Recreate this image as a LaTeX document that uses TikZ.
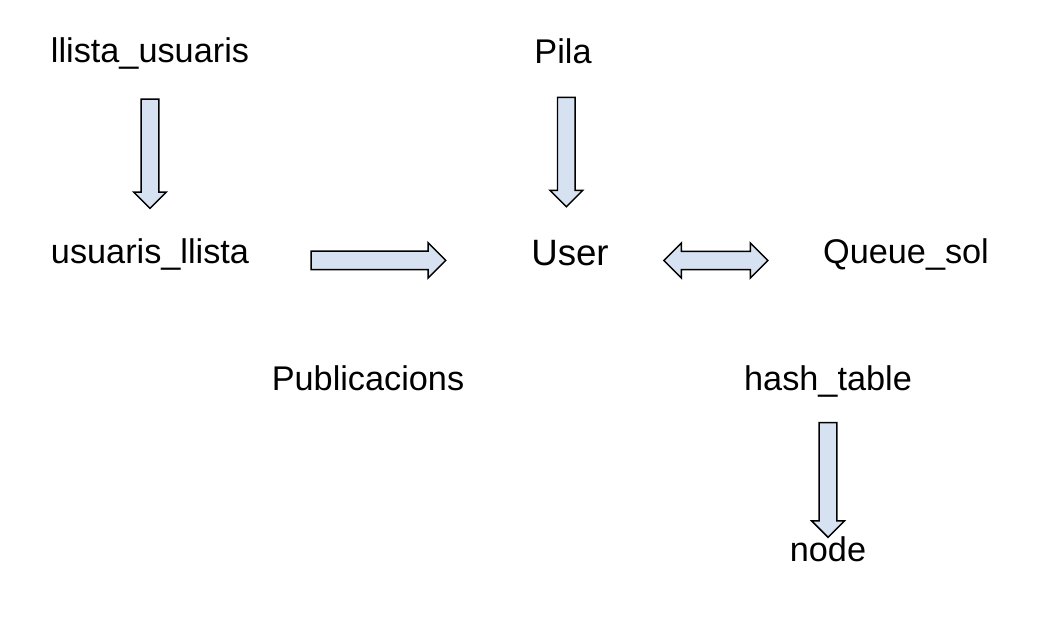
\documentclass[tikz,border=0pt]{standalone}
\usepackage{fontspec}
\setmainfont{Liberation Sans}
\usepackage{xcolor}
\usepackage{tikz}
\usetikzlibrary{shapes,arrows}
\definecolor{arrowfill}{RGB}{214,226,241}

\begin{document}
\begin{tikzpicture}[
    x=0.75pt, y=-0.75pt,
    lbl/.style={font=\fontsize{25.7}{30}\selectfont, inner sep=0pt, anchor=base},
    blk/.style={single arrow, draw, line width=1.1pt, fill=arrowfill, inner sep=6.1pt,
        single arrow head extend=5.6pt},
    dblk/.style={double arrow, draw, line width=1.1pt, fill=arrowfill, inner sep=6.3pt,
        double arrow head extend=6.3pt},
]
    \useasboundingbox (0,0) rectangle (1064,622);

    \node[lbl] (lu) at (150,62) {llista\_usuaris};
    \node[lbl] (pila) at (563,63) {Pila};
    \node[lbl] (ul) at (150,263) {usuaris\_llista};
    \node[lbl, font=\fontsize{27.5}{32}\selectfont] (user) at (570,265) {User};
    \node[lbl] (queue) at (906,263) {Queue\_sol};
    \node[lbl] (publ) at (368,390) {Publicacions};
    \node[lbl] (hash) at (828,390) {hash\_table};
    \node[lbl] (nd) at (828,561) {node};

    \path (lu.south) -- node[pos=0.475, blk, minimum height=82pt, shape border rotate=270] (a1) {} (ul.north);
    \path (pila.south) -- node[pos=0.478, blk, minimum height=82pt, shape border rotate=270] (a2) {} (user.north);
    \path (ul.mid east) -- node[pos=0.442, blk, inner sep=6.4pt, single arrow head extend=6.3pt, minimum height=101pt] (a3) {} (user.mid west);
    \path (user.mid east) -- node[dblk, minimum height=78pt] (a4) {} (queue.mid west);
    \path (hash.south) -- node[pos=0.565, blk, minimum height=86pt, shape border rotate=270] (a5) {} (nd.north);
\end{tikzpicture}
\end{document}
